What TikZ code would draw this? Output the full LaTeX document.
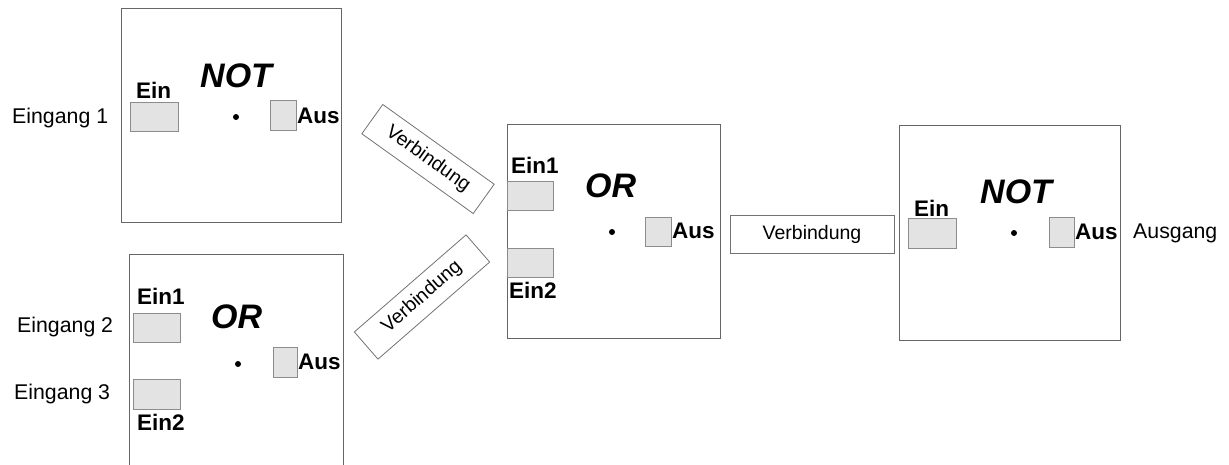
\documentclass[tikz,border=0pt]{standalone}
\usepackage{fontspec}
\setmainfont{Liberation Sans}
\begin{document}
\begin{tikzpicture}[x=1pt,y=-1pt,
  gate/.style={draw=black!60, line width=0.9pt, fill=none, inner sep=0pt, anchor=north west},
  port/.style={draw=black!45, fill=black!11, line width=0.8pt, inner sep=0pt, anchor=north west},
  txt/.style={inner sep=0pt, anchor=base west, font=\fontsize{21.3}{25}\selectfont},
  plab/.style={inner sep=0pt, anchor=base west, font=\fontsize{22.5}{26}\selectfont\bfseries},
  gname/.style={inner sep=0pt, anchor=base west, font=\fontsize{34}{39}\selectfont\bfseries\itshape},
  link/.style={draw=black!55, line width=0.8pt, inner sep=0pt, fill=white,
    font=\fontsize{19.5}{23}\selectfont},
  dot/.style={circle, fill=black, inner sep=0pt, minimum size=6pt}]
\useasboundingbox[fill=white] (0,0) rectangle (1229,464);

% first NOT gate (top left)
\node[gate, minimum width=220pt, minimum height=214pt] (g1) at (121,8) {};
\node[port, minimum width=48pt, minimum height=29pt] (g1in) at (130,102) {};
\node[port, minimum width=26pt, minimum height=30pt] (g1out) at (270,100) {};
\node[dot] (g1dot) at (236,117) {};
\node[plab] (g1inl) at (136,98) {Ein};
\node[gname] (g1name) at (200,87) {NOT};
\node[plab] (g1outl) at (297,123) {Aus};
\node[txt] (e1) at (12,123) {Eingang 1};

% first OR gate (bottom left)
\node[gate, minimum width=214pt, minimum height=230pt] (g2) at (129,254) {};
\node[port, minimum width=47pt, minimum height=29pt] (g2ina) at (133,313) {};
\node[port, minimum width=47pt, minimum height=30pt] (g2inb) at (133,379) {};
\node[port, minimum width=24pt, minimum height=30pt] (g2out) at (273,347) {};
\node[dot] (g2dot) at (238,364) {};
\node[plab] (g2inal) at (137,304) {Ein1};
\node[plab] (g2inbl) at (137,430) {Ein2};
\node[gname] (g2name) at (211,328) {OR};
\node[plab] (g2outl) at (298,369) {Aus};
\node[txt] (e2) at (17,332) {Eingang 2};
\node[txt] (e3) at (14,399) {Eingang 3};

% second OR gate (middle)
\node[gate, minimum width=213pt, minimum height=214pt] (g3) at (507,124) {};
\node[port, minimum width=46pt, minimum height=29pt] (g3ina) at (507,181) {};
\node[port, minimum width=46pt, minimum height=29pt] (g3inb) at (507,248) {};
\node[port, minimum width=26pt, minimum height=29pt] (g3out) at (645,217) {};
\node[dot] (g3dot) at (612,232) {};
\node[plab] (g3inal) at (511,173) {Ein1};
\node[plab] (g3inbl) at (509,298) {Ein2};
\node[gname] (g3name) at (585,197) {OR};
\node[plab] (g3outl) at (672,238) {Aus};

% second NOT gate (right)
\node[gate, minimum width=221pt, minimum height=215pt] (g4) at (899,125) {};
\node[port, minimum width=48pt, minimum height=30pt] (g4in) at (908,218) {};
\node[port, minimum width=25pt, minimum height=30pt] (g4out) at (1049,217) {};
\node[dot] (g4dot) at (1014,233) {};
\node[plab] (g4inl) at (914,216) {Ein};
\node[gname] (g4name) at (980,203) {NOT};
\node[plab] (g4outl) at (1075,239) {Aus};
\node[txt] (aus) at (1133,238) {Ausgang};

% connections
\node[link, minimum width=137pt, minimum height=36pt, rotate=-35.6] (v1) at (428,159) {Verbindung};
\node[link, minimum width=148pt, minimum height=36pt, rotate=41] (v2) at (422,297) {Verbindung};
\node[link, minimum width=164pt, minimum height=38pt] (v3) at (812,234) {Verbindung};
\end{tikzpicture}
\end{document}
